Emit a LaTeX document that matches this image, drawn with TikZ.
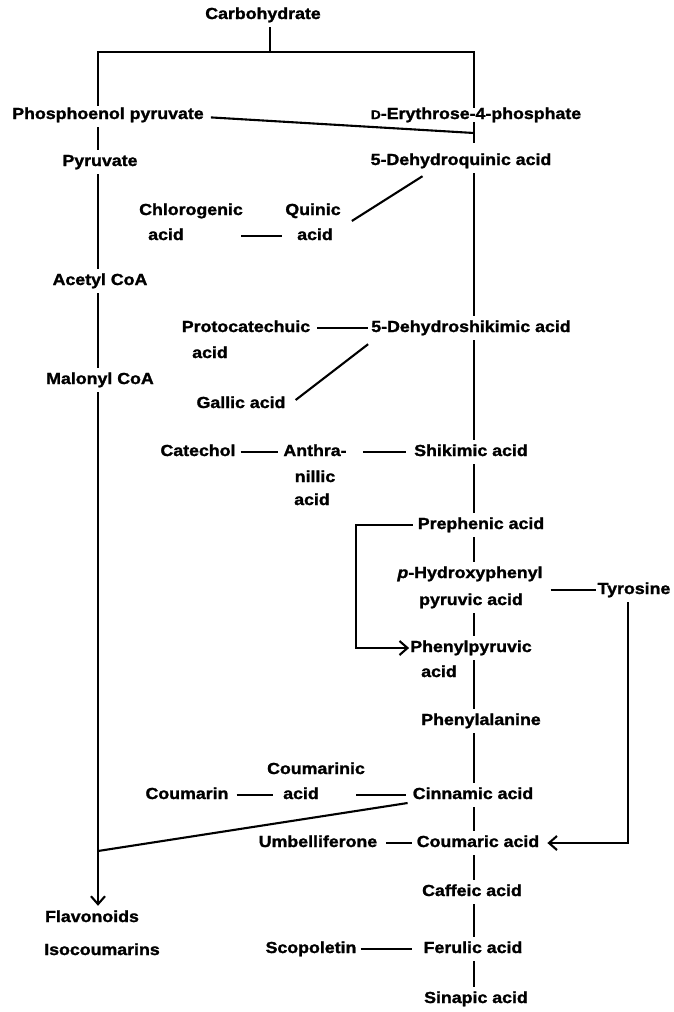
\documentclass[tikz,border=0pt]{standalone}
\usepackage{fontspec}
\setmainfont[FakeStretch=1.11,BoldFeatures={FakeBold=1.5},BoldItalicFeatures={FakeBold=1.5}]{Liberation Sans}
\usetikzlibrary{arrows.meta}
\tikzset{
  lbl/.style={inner xsep=0pt, inner ysep=5pt, text height=11pt, text depth=3pt},
  conn/.style={line width=2.1pt},
  >={Straight Barb[length=8pt,width=14pt]}
}
\begin{document}
\begin{tikzpicture}[x=1pt,y=-1pt,font=\fontsize{16}{18}\selectfont\bfseries,every node/.style={lbl}]
\useasboundingbox (0,0) rectangle (673,1012);
% nodes
\node (carb) at (263,15) {Carbohydrate};
\node (phos) at (108,115) {Phosphoenol pyruvate};
\node (ery) at (476,115) {{\fontsize{12.5}{12}\selectfont D}-Erythrose-4-phosphate};
\node (pyr) at (100,162) {Pyruvate};
\node (dhq) at (461,161) {5-Dehydroquinic acid};
\node (chl) at (191,211) {Chlorogenic};
\node (chlb) at (166,236) {acid};
\node (qui) at (313,211) {Quinic};
\node (quib) at (315,236) {acid};
\node (ace) at (100,281) {Acetyl CoA};
\node (pro) at (246,328) {Protocatechuic};
\node (prob) at (210,354) {acid};
\node (dhs) at (471,328) {5-Dehydroshikimic acid};
\node (mal) at (100,380) {Malonyl CoA};
\node (gal) at (241,404) {Gallic acid};
\node (cat) at (198,452) {Catechol};
\node (anth) at (315,452) {Anthra-};
\node (anthb) at (315,478) {nillic};
\node (anthc) at (312,501) {acid};
\node (shik) at (471,452) {Shikimic acid};
\node (pre) at (481,525) {Prephenic acid};
\node (phy) at (470,574) {\textit{p}-Hydroxyphenyl};
\node (phyb) at (471,601) {pyruvic acid};
\node (tyr) at (634,590) {Tyrosine};
\node (ppa) at (471,648) {Phenylpyruvic};
\node (ppab) at (439,673) {acid};
\node (phe) at (481,721) {Phenylalanine};
\node (cmc) at (316,770) {Coumarinic};
\node (cmcb) at (301,795) {acid};
\node (coum) at (187,795) {Coumarin};
\node (cin) at (473,795) {Cinnamic acid};
\node (umb) at (318,843) {Umbelliferone};
\node (cou) at (478,843) {Coumaric acid};
\node (caf) at (472,892) {Caffeic acid};
\node (sco) at (311,949) {Scopoletin};
\node (fer) at (473,949) {Ferulic acid};
\node (sin) at (476,999) {Sinapic acid};
\node (flav) at (92,918) {Flavonoids};
\node (iso) at (102,951) {Isocoumarins};
% junction coordinates
\coordinate (jl) at (98,52);
\coordinate (jr) at (474,52);
\coordinate (jt) at (270,52);
\coordinate (sp) at (474,0);
\coordinate (jq) at (474,133);
\coordinate (jc) at (98,851);
\coordinate (lx) at (356,0);
\coordinate (tx) at (628,0);
% top branching
\draw[conn] (carb.south -| jt) -- (jt);
\draw[conn,shorten <=-3pt,shorten >=-5pt] (phos.north -| jl) -- (jl) -- (jr) -- (ery.north -| jr);
% left spine
\draw[conn] (phos.south -| jl) -- (pyr.north -| jl);
\draw[conn] (pyr.south -| jl) -- (ace.north -| jl);
\draw[conn] (ace.south -| jl) -- (mal.north -| jl);
\draw[conn,->] (mal.south -| jl) -- (flav.north -| jl);
% right spine
\draw[conn,shorten <=-5pt,shorten >=6pt] (ery.south -| sp) -- (dhq.north -| sp);
\draw[conn] (dhq.south -| sp) -- (dhs.north -| sp);
\draw[conn] (dhs.south -| sp) -- (shik.north -| sp);
\draw[conn] (shik.south -| sp) -- (pre.north -| sp);
\draw[conn] (pre.south -| sp) -- (phy.north -| sp);
\draw[conn] (phyb.south -| sp) -- (ppa.north -| sp);
\draw[conn] (ppa.south -| sp) -- (phe.north -| sp);
\draw[conn] (phe.south -| sp) -- (cin.north -| sp);
\draw[conn] (cin.south -| sp) -- (cou.north -| sp);
\draw[conn] (cou.south -| sp) -- (caf.north -| sp);
\draw[conn] (caf.south -| sp) -- (fer.north -| sp);
\draw[conn] (fer.south -| sp) -- (sin.north -| sp);
% slanted connectors
\draw[conn,shorten <=7pt] ([yshift=-2pt]phos.east) -- (jq);
\draw[conn] ([xshift=11pt,yshift=-10pt]qui.east) -- ([xshift=52pt,yshift=-3pt]dhq.south west);
\draw[conn] ([xshift=10pt,yshift=4pt]gal.east) -- ([xshift=-3pt,yshift=-4pt]dhs.south west);
\draw[conn] ([xshift=-5pt,yshift=-8pt]cin.west) -- (jc);
% side branches
\draw[conn,shorten <=-2pt,shorten >=15pt] (chl.east |- chlb.east) -- (quib.west);
\draw[conn,shorten <=7pt,shorten >=3pt] (pro.east) -- (dhs.west);
\draw[conn,shorten <=5pt,shorten >=5pt] (cat.east) -- (anth.west);
\draw[conn,shorten <=16pt,shorten >=8pt] (anth.east) -- (shik.west);
\draw[conn,shorten <=8pt,shorten >=1pt] (phy.east |- tyr.west) -- (tyr.west);
\draw[conn,shorten <=8pt,shorten >=10pt] (coum.east) -- (cmcb.west);
\draw[conn,shorten <=-9pt,shorten >=7pt] (cmc.east |- cin.west) -- (cin.west);
\draw[conn,shorten <=9pt,shorten >=5pt] (umb.east) -- (cou.west);
\draw[conn,shorten <=4pt,shorten >=11pt] (sco.east) -- (fer.west);
% arrows
\draw[conn,->,shorten <=5pt,shorten >=1pt] (pre.west) -- (pre.west -| lx) -- (ppa.west -| lx) -- (ppa.west);
\draw[conn,->,shorten >=8pt] (tyr.south -| tx) -- (cou.east -| tx) -- (cou.east);
\end{tikzpicture}
\end{document}
